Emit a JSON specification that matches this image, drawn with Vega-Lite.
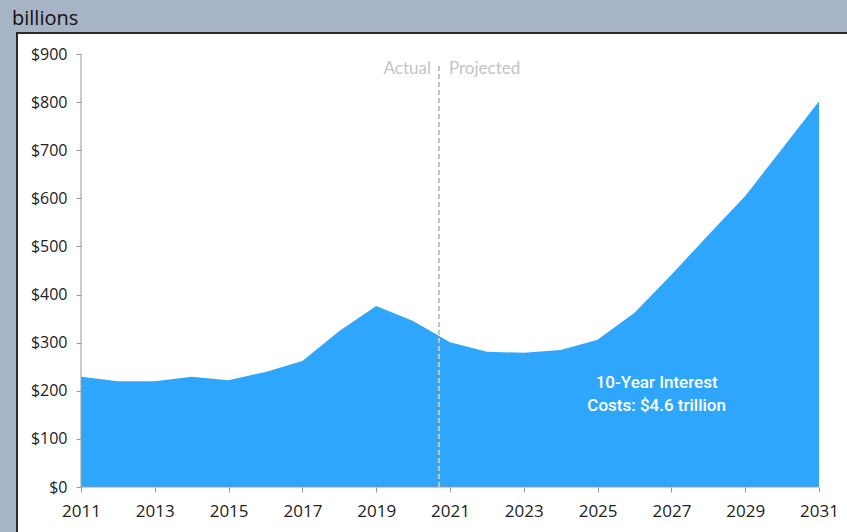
{
  "$schema": "https://vega.github.io/schema/vega-lite/v6.json",
  "width": 835,
  "height": 505,
  "autosize": {"type": "none"},
  "padding": {"left": 17, "top": 33, "right": 0, "bottom": 0},
  "background": "#a7b4c6",
  "title": {"text": "billions", "anchor": "start", "frame": "group", "dx": -5, "offset": 4, "fontSize": 20, "font": "Open Sans", "fontWeight": "normal", "color": "#111111"},
  "config": {"view": {"fill": "white", "stroke": "#2a2a2a", "strokeWidth": 2}},
  "datasets": {
    "interest": [
      {"year": 2011, "cost": 229}, {"year": 2012, "cost": 220}, {"year": 2013, "cost": 220},
      {"year": 2014, "cost": 229}, {"year": 2015, "cost": 222}, {"year": 2016, "cost": 239},
      {"year": 2017, "cost": 262}, {"year": 2018, "cost": 324}, {"year": 2019, "cost": 376},
      {"year": 2020, "cost": 345}, {"year": 2021, "cost": 301}, {"year": 2022, "cost": 281},
      {"year": 2023, "cost": 279}, {"year": 2024, "cost": 285}, {"year": 2025, "cost": 306},
      {"year": 2026, "cost": 362}, {"year": 2027, "cost": 441}, {"year": 2028, "cost": 524},
      {"year": 2029, "cost": 605}, {"year": 2030, "cost": 703}, {"year": 2031, "cost": 802}
    ]
  },
  "layer": [
    {
      "data": {"name": "interest"},
      "mark": {"type": "area", "color": "#2ea6fb", "interpolate": "linear"},
      "encoding": {
        "x": {"field": "year", "type": "quantitative",
          "scale": {"domain": [2009.2656, 2031.894], "nice": false, "zero": false},
          "axis": {"values": [2011, 2013, 2015, 2017, 2019, 2021, 2023, 2025, 2027, 2029, 2031], "format": "d", "title": null, "offset": -51, "domain": false, "grid": false, "tickColor": "#999999", "tickSize": 5, "labelFontSize": 17, "labelFont": "Open Sans", "labelColor": "#222222", "labelPadding": 11}},
        "y": {"field": "cost", "type": "quantitative",
          "scale": {"domain": [-106.0, 943.65], "nice": false, "zero": false},
          "axis": {"values": [0, 100, 200, 300, 400, 500, 600, 700, 800, 900], "labelExpr": "'$' + datum.value", "title": null, "offset": -64, "domain": false, "grid": false, "tickColor": "#999999", "tickSize": 5, "labelFontSize": 16, "labelFont": "Open Sans", "labelColor": "#222222", "labelPadding": 9}}
      }
    },
    {
      "data": {"values": [{"x": 2011, "x2": 2031, "y": 0, "y2": 0}, {"x": 2011, "x2": 2011, "y": 0, "y2": 900}]},
      "mark": {"type": "rule", "color": "#999999", "strokeWidth": 1},
      "encoding": {
        "x": {"field": "x", "type": "quantitative"},
        "x2": {"field": "x2"},
        "y": {"field": "y", "type": "quantitative"},
        "y2": {"field": "y2"}
      }
    },
    {
      "data": {"values": [{"x": 2020.7, "y": 0, "y2": 877}]},
      "mark": {"type": "rule", "color": "#c4c4c4", "strokeWidth": 2, "strokeDash": [5, 3]},
      "encoding": {
        "x": {"field": "x", "type": "quantitative"},
        "y": {"field": "y", "type": "quantitative"},
        "y2": {"field": "y2"}
      }
    },
    {
      "data": {"values": [{"x": 2020.7, "y": 869, "label": "Actual", "side": "left"}, {"x": 2020.7, "y": 869, "label": "Projected", "side": "right"}]},
      "transform": [{"filter": "datum.side == 'left'"}],
      "mark": {"type": "text", "align": "right", "baseline": "middle", "dx": -8, "fontSize": 17, "font": "Lato", "color": "#c4c4c4"},
      "encoding": {
        "x": {"field": "x", "type": "quantitative"},
        "y": {"field": "y", "type": "quantitative"},
        "text": {"field": "label"}
      }
    },
    {
      "data": {"values": [{"x": 2020.7, "y": 869, "label": "Actual", "side": "left"}, {"x": 2020.7, "y": 869, "label": "Projected", "side": "right"}]},
      "transform": [{"filter": "datum.side == 'right'"}],
      "mark": {"type": "text", "align": "left", "baseline": "middle", "dx": 10, "fontSize": 17, "font": "Lato", "color": "#c4c4c4"},
      "encoding": {
        "x": {"field": "x", "type": "quantitative"},
        "y": {"field": "y", "type": "quantitative"},
        "text": {"field": "label"}
      }
    },
    {
      "data": {"values": [{"x": 2026.6, "y": 216, "label": "10-Year Interest"}, {"x": 2026.6, "y": 168, "label": "Costs: $4.6 trillion"}]},
      "mark": {"type": "text", "align": "center", "baseline": "middle", "fontSize": 17, "font": "Roboto", "fontWeight": 500, "color": "white"},
      "encoding": {
        "x": {"field": "x", "type": "quantitative"},
        "y": {"field": "y", "type": "quantitative"},
        "text": {"field": "label"}
      }
    }
  ]
}
